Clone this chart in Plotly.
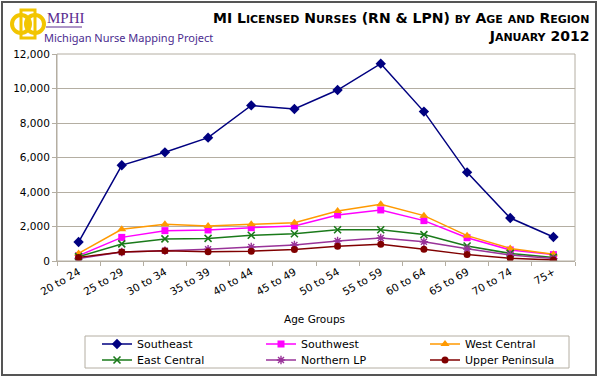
import plotly.graph_objects as go

categories = ["20 to 24", "25 to 29", "30 to 34", "35 to 39", "40 to 44", "45 to 49",
              "50 to 54", "55 to 59", "60 to 64", "65 to 69", "70 to 74", "75+"]
southeast = [1100, 5550, 6300, 7150, 9020, 8810, 9910, 11440, 8660, 5140, 2490, 1390]
southwest = [310, 1370, 1760, 1800, 1930, 2030, 2670, 2960, 2340, 1350, 640, 370]
west_central = [440, 1840, 2130, 2030, 2130, 2220, 2900, 3290, 2630, 1470, 730, 390]
east_central = [250, 990, 1280, 1310, 1490, 1580, 1810, 1810, 1530, 870, 440, 210]
northern_lp = [150, 520, 600, 680, 810, 930, 1160, 1330, 1120, 710, 350, 140]
upper_peninsula = [210, 520, 600, 540, 570, 660, 850, 970, 680, 370, 160, 60]
y_ticks = [0, 2000, 4000, 6000, 8000, 10000, 12000]

series = [
    ("Southeast", southeast, "#000080", "diamond", 8, None, "legend"),
    ("Southwest", southwest, "#FF00FF", "square", 7, None, "legend"),
    ("West Central", west_central, "#FF9900", "triangle-up", 8, None, "legend"),
    ("East Central", east_central, "#1A7A1A", "x-thin-open", 7, 1.6, "legend2"),
    ("Northern LP", northern_lp, "#993399", "asterisk-open", 7, 1.4, "legend2"),
    ("Upper Peninsula", upper_peninsula, "#800000", "circle", 7, None, "legend2"),
]

W, H = 600, 378
L, R, T, B = 57, 575, 54, 261
FONT = "DejaVu Sans, Verdana, sans-serif"


def px(x):
    return (x - L) / (R - L)


def py(y):
    return (B - y) / (B - T)


fig = go.Figure()
for name, vals, color, sym, size, lw, lg in series:
    marker = dict(symbol=sym, size=size, color=color)
    if lw:
        marker["line"] = dict(width=lw, color=color)
    fig.add_trace(go.Scatter(x=categories, y=vals, name=name, mode="lines+markers",
                             line=dict(color=color, width=1.5), marker=marker, legend=lg))

grid = "#B4AEA2"


def smallcaps(text, small):
    out = []
    for word in text.split(" "):
        parts = []
        for ch in word:
            if ch.islower():
                parts.append(f'<span style="font-size:{small}px">{ch.upper()}</span>')
            else:
                parts.append(ch)
        out.append("".join(parts))
    return " ".join(out)


title_html = ("<b>" + smallcaps("MI Licensed Nurses (RN & LPN) by Age and Region", 11)
              + "<br>" + smallcaps("January 2012", 11) + "</b>")

shapes = [
    # outer border
    dict(type="rect", xref="paper", yref="paper", x0=px(2), x1=px(596), y0=py(2), y1=py(375),
         line=dict(color="#555555", width=2), layer="below"),
    # plot area border
    dict(type="rect", xref="paper", yref="paper", x0=0, x1=1, y0=0, y1=1,
         line=dict(color=grid, width=1)),
    # legend box
    dict(type="rect", xref="paper", yref="paper", x0=px(85), x1=px(569), y0=py(336), y1=py(368),
         line=dict(color=grid, width=1)),
    # logo
    dict(type="circle", xref="paper", yref="paper", x0=px(12), x1=px(30), y0=py(15), y1=py(33),
         line=dict(color="#F2C500", width=4)),
    dict(type="circle", xref="paper", yref="paper", x0=px(26), x1=px(44), y0=py(15), y1=py(33),
         line=dict(color="#F2C500", width=4)),
    dict(type="rect", xref="paper", yref="paper", x0=px(21), x1=px(35), y0=py(10), y1=py(38),
         line=dict(color="#F2C500", width=3)),
    dict(type="line", xref="paper", yref="paper", x0=px(46), x1=px(82), y0=py(27), y1=py(27),
         line=dict(color="#5B2C8F", width=1)),
]

annotations = [
    dict(text=title_html, xref="paper", yref="paper", x=px(591), y=py(8), xanchor="right",
         yanchor="top", align="right", showarrow=False,
         font=dict(family=FONT, size=14, color="#000000")),
    dict(text="MPHI", xref="paper", yref="paper", x=px(45), y=py(28), xanchor="left",
         yanchor="bottom", showarrow=False,
         font=dict(family="Liberation Serif, serif", size=15, color="#5B2C8F")),
    dict(text="Michigan Nurse Mapping Project", xref="paper", yref="paper", x=px(42), y=py(28),
         xanchor="left", yanchor="top", showarrow=False,
         font=dict(family="Noto Sans, sans-serif", size=11, color="#4B2C8F")),
    dict(text="Age Groups", xref="paper", yref="paper", x=px(314), y=py(319), xanchor="center",
         yanchor="middle", showarrow=False, font=dict(family=FONT, size=10.5, color="#000000")),
]

legend_common = dict(orientation="h", xanchor="left", yanchor="middle",
                     entrywidth=119, entrywidthmode="pixels", font=dict(size=11),
                     bgcolor="rgba(0,0,0,0)", itemwidth=30, borderwidth=0)

fig.update_layout(
    width=W, height=H,
    margin=dict(l=L, r=W - R, t=T, b=H - B, autoexpand=False),
    paper_bgcolor="white", plot_bgcolor="white",
    font=dict(family=FONT, size=10.5, color="#000000"),
    showlegend=True,
    legend=dict(x=px(97), y=py(344), **legend_common),
    legend2=dict(x=px(97), y=py(360), **legend_common),
    shapes=shapes, annotations=annotations,
)
fig.update_xaxes(type="category", range=[-0.5, 11.5], tickson="boundaries", ticks="outside",
                 ticklen=4, tickcolor=grid, showgrid=False, showline=True, linecolor=grid,
                 tickangle=-30, tickfont=dict(size=10.5))
fig.update_yaxes(range=[0, 12000], tickvals=y_ticks, tickformat=",", ticks="outside",
                 ticklen=4, tickcolor=grid, showgrid=True, gridcolor=grid, showline=True,
                 linecolor=grid, zeroline=False, tickfont=dict(size=10.5))

fig.write_html("out.html", config={"displayModeBar": False},
               post_script="document.body.style.margin='0';")
